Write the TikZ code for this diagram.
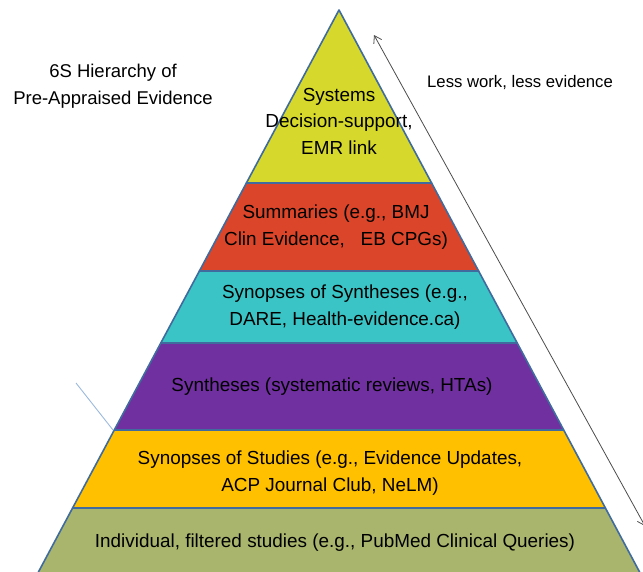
\documentclass[tikz,border=0pt]{standalone}
\usepackage{fontspec}
\setmainfont{Liberation Sans}
\usetikzlibrary{arrows.meta}

\definecolor{edgeblue}{RGB}{63,107,158}
\definecolor{sysyellow}{RGB}{214,217,43}
\definecolor{sumred}{RGB}{219,69,41}
\definecolor{syncyan}{RGB}{58,196,198}
\definecolor{synpurple}{RGB}{112,48,160}
\definecolor{studorange}{RGB}{255,192,0}
\definecolor{indolive}{RGB}{169,180,109}
\definecolor{tickblue}{RGB}{155,185,222}

\begin{document}
\begin{tikzpicture}[x=1pt,y=-1pt,
    layer/.style={draw=edgeblue, line width=1.6pt, line join=round},
    lbl/.style={align=center, inner sep=0pt, font=\fontsize{18.9}{26.5}\selectfont}]
    \useasboundingbox (0,0) rectangle (643,571);
    % the six layers, bottom first
    \draw[layer, fill=indolive] (72.6,508) -- (605.4,508) -- (646,584) -- (32,584) -- cycle;
    \draw[layer, fill=studorange] (114.3,430) -- (563.7,430) -- (605.4,508) -- (72.6,508) -- cycle;
    \draw[layer, fill=synpurple] (160.8,343) -- (517.2,343) -- (563.7,430) -- (114.3,430) -- cycle;
    \draw[layer, fill=syncyan] (199.4,271) -- (478.6,271) -- (517.2,343) -- (160.8,343) -- cycle;
    \draw[layer, fill=sumred] (246.4,183) -- (431.6,183) -- (478.6,271) -- (199.4,271) -- cycle;
    \draw[layer, fill=sysyellow] (339,10) -- (431.6,183) -- (246.4,183) -- cycle;

    \node[lbl] (systems) at (339,121) {Systems\\Decision-support,\\EMR link};
    \node[lbl] (summaries) at (336,227) {Summaries (e.g., BMJ\\Clin Evidence,\ \ \ EB CPGs)};
    \node[lbl] (synsyn) at (345,307) {Synopses of Syntheses (e.g.,\\DARE, Health-evidence.ca)};
    \node[lbl] (syntheses) at (332,387) {Syntheses (systematic reviews, HTAs)};
    \node[lbl] (synstud) at (330,473) {Synopses of Studies (e.g., Evidence Updates,\\ACP Journal Club, NeLM)};
    \node[lbl] (individual) at (335,543) {Individual, filtered studies (e.g., PubMed Clinical Queries)};

    \node[lbl, font=\fontsize{18.5}{26.5}\selectfont] (title) at (113,86) {6S Hierarchy of\\Pre-Appraised Evidence};
    \node[lbl, font=\fontsize{16.7}{20}\selectfont] (lesswork) at (520,83) {Less work, less evidence};

    % work / evidence arrow
    \coordinate (arrtop) at (374,35);
    \coordinate (arrbot) at (645,526);
    \draw[black!70, line width=0.8pt, {Straight Barb[length=7pt,width=9pt]}-{Straight Barb[length=7pt,width=9pt]}] (arrtop) -- (arrbot);

    \coordinate (tickfree) at (76,383);
    \coordinate (tickend) at (113,430);
    \draw[tickblue, line width=0.9pt] (tickfree) -- (tickend);
\end{tikzpicture}
\end{document}
